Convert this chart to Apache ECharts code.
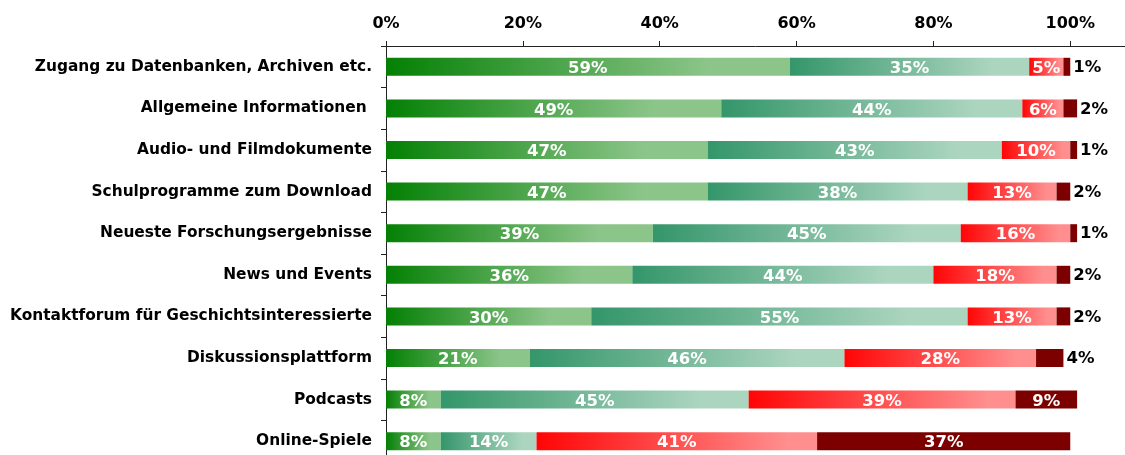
<!DOCTYPE html>
<html>
<head>
<meta charset="utf-8">
<script src="https://cdn.jsdelivr.net/npm/echarts@6/dist/echarts.min.js"></script>
<style>
  html, body { margin: 0; padding: 0; background: #fff; }
  #chart { width: 1125px; height: 455px; }
</style>
</head>
<body>
<div id="chart"></div>
<script>
// Survey answers per offer, in percent (rows top to bottom)
const categories = [
  'Zugang zu Datenbanken, Archiven etc.',
  'Allgemeine Informationen ',
  'Audio- und Filmdokumente',
  'Schulprogramme zum Download',
  'Neueste Forschungsergebnisse',
  'News und Events',
  'Kontaktforum für Geschichtsinteressierte',
  'Diskussionsplattform',
  'Podcasts',
  'Online-Spiele'
];
const veryImportant = [59, 49, 47, 47, 39, 36, 30, 21, 8, 8];
const important     = [35, 44, 43, 38, 45, 44, 55, 46, 45, 14];
const lessImportant = [5, 6, 10, 13, 16, 18, 13, 28, 39, 41];
const unimportant   = [1, 2, 1, 2, 1, 2, 2, 4, 9, 37];
const tickValues = [0, 20, 40, 60, 80, 100];

const FONT = 'DejaVu Sans';

// horizontal fade across each segment, flat over its last part
function grad(from, to, flatFrom) {
  return new echarts.graphic.LinearGradient(0, 0, 1, 0, [
    { offset: 0, color: from },
    { offset: flatFrom, color: to },
    { offset: 1, color: to }
  ]);
}

const innerLabel = {
  show: true,
  position: 'inside',
  color: '#fff',
  fontFamily: FONT,
  fontWeight: 'bold',
  fontSize: 16.5,
  offset: [0, 2],
  formatter: p => p.value + '%'
};

// Small values of the last segment are labelled outside the bar
const lastData = unimportant.map(v => v < 5
  ? { value: v, label: { show: true, position: 'right', distance: 3, color: '#000',
      fontFamily: FONT, fontWeight: 'bold', fontSize: 16.5, offset: [0, 1],
      formatter: p => p.value + '%' } }
  : { value: v });

const barW = 18;

const option = {
  animation: false,
  backgroundColor: '#fff',
  // plot area runs a little past the lower edge of the canvas
  grid: { left: 386, width: 739, top: 46, height: 416,
          containLabel: false, outerBoundsMode: 'none' },
  xAxis: {
    type: 'value',
    position: 'top',
    min: 0,
    max: 108,
    interval: 20,
    axisLine: { show: true, lineStyle: { color: '#222', width: 1 } },
    axisTick: { show: true, length: 5, lineStyle: { color: '#222' } },
    splitLine: { show: false },
    axisLabel: {
      margin: 14,
      color: '#000',
      fontFamily: FONT,
      fontWeight: 'bold',
      fontSize: 16,
      showMaxLabel: false,
      formatter: v => tickValues.indexOf(v) >= 0 ? v + '%' : ''
    }
  },
  yAxis: {
    type: 'category',
    inverse: true,
    data: categories,
    axisLine: { show: true, lineStyle: { color: '#222', width: 1 } },
    axisTick: { show: true, length: 5, lineStyle: { color: '#222' } },
    axisLabel: {
      margin: 14,
      color: '#000',
      fontFamily: FONT,
      fontWeight: 'bold',
      fontSize: 15.4
    }
  },
  series: [
    { name: 'sehr wichtig', type: 'bar', stack: 'all', barWidth: barW, data: veryImportant,
      itemStyle: { color: grad('#048004', '#8cc58a', 0.8) }, label: innerLabel },
    { name: 'wichtig', type: 'bar', stack: 'all', barWidth: barW, data: important,
      itemStyle: { color: grad('#34966a', '#acd5c0', 0.85) }, label: innerLabel },
    { name: 'weniger wichtig', type: 'bar', stack: 'all', barWidth: barW, data: lessImportant,
      itemStyle: { color: grad('#ff0505', '#ff8f8f', 0.9) }, label: innerLabel },
    { name: 'unwichtig', type: 'bar', stack: 'all', barWidth: barW, data: lastData,
      itemStyle: { color: '#7d0000' }, label: innerLabel }
  ]
};

echarts.init(document.getElementById('chart'), null, { renderer: 'canvas' }).setOption(option);
</script>
</body>
</html>
